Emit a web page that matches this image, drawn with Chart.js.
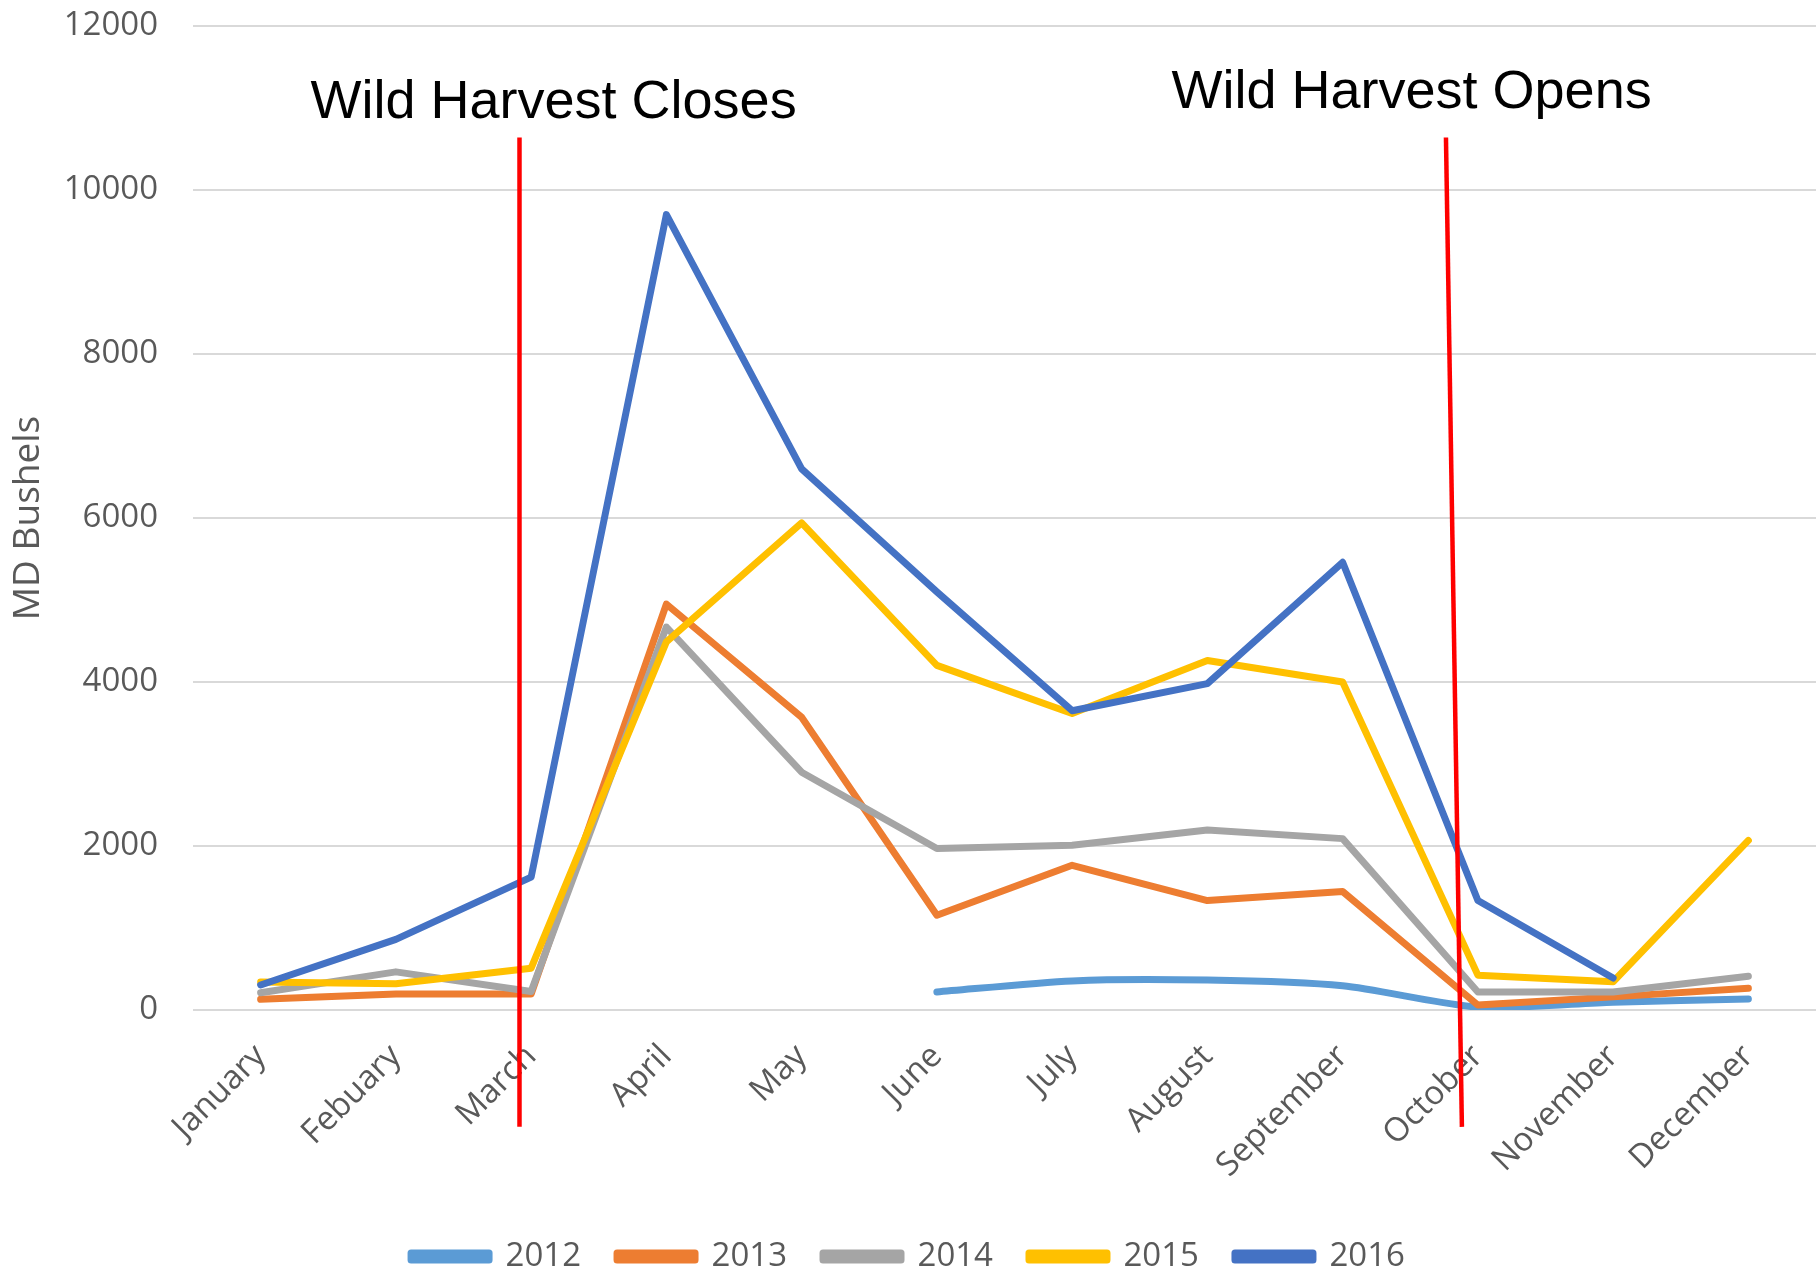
<!DOCTYPE html>
<html>
<head>
<meta charset="utf-8">
<script src="https://cdn.jsdelivr.net/npm/chart.js@4.4.1/dist/chart.umd.min.js"></script>
<style>
  html, body { margin: 0; padding: 0; background: #fff; }
  #wrap { width: 1816px; height: 1275px; position: relative; }
</style>
</head>
<body>
<div id="wrap"><canvas id="chart"></canvas></div>
<script>
// Categories (spelling kept as in the original)
const months = ['January', 'Febuary', 'March', 'April', 'May', 'June', 'July',
  'August', 'September', 'October', 'November', 'December'];

// MD bushels per month
const bushels2012 = [null, null, null, null, null, 220, 355, 365, 295, 35, 95, 135];
const bushels2013 = [130, 195, 195, 4950, 3570, 1155, 1765, 1335, 1445, 60, 160, 265];
const bushels2014 = [210, 465, 225, 4670, 2900, 1970, 2010, 2195, 2090, 220, 220, 412];
const bushels2015 = [340, 320, 510, 4490, 5940, 4203, 3615, 4262, 4000, 425, 345, 2068];
const bushels2016 = [305, 862, 1620, 9700, 6600, 5100, 3650, 3980, 5460, 1335, 390, null];

const yTicks = [0, 2000, 4000, 6000, 8000, 10000, 12000];

// Season markers (category index / bushel units)
const closesMarker = { xTop: 1.914, xBottom: 1.914, yTop: 10640, yBottom: -1425 };
const opensMarker = { xTop: 8.764, xBottom: 8.882, yTop: 10640, yBottom: -1425 };
const closesLabel = { text: 'Wild Harvest Closes', x: 2.166, y: 10880 };
const opensLabel = { text: 'Wild Harvest Opens', x: 8.51, y: 11000 };

const GREY_TEXT = '#595959';

function series(label, data, color, order, tension) {
  return {
    label: label,
    data: data,
    borderColor: color,
    backgroundColor: color,
    borderWidth: 7,
    borderCapStyle: 'round',
    borderJoinStyle: 'round',
    pointRadius: 0,
    pointHoverRadius: 0,
    tension: tension || 0,
    spanGaps: false,
    fill: false,
    order: order
  };
}

// Red marker lines + labels drawn over the series
const harvestMarkers = {
  id: 'harvestMarkers',
  afterDatasetsDraw(chart) {
    const ctx = chart.ctx;
    const x = chart.scales.x;
    const y = chart.scales.y;
    ctx.save();
    ctx.strokeStyle = '#FF0000';
    ctx.lineWidth = 4.5;
    [closesMarker, opensMarker].forEach(m => {
      ctx.beginPath();
      ctx.moveTo(x.getPixelForValue(m.xTop), y.getPixelForValue(m.yTop));
      ctx.lineTo(x.getPixelForValue(m.xBottom), y.getPixelForValue(m.yBottom));
      ctx.stroke();
    });
    ctx.fillStyle = '#000000';
    ctx.font = '54px "Liberation Sans", Arial, sans-serif';
    ctx.textAlign = 'center';
    ctx.textBaseline = 'alphabetic';
    [closesLabel, opensLabel].forEach(l => {
      ctx.fillText(l.text, x.getPixelForValue(l.x), y.getPixelForValue(l.y));
    });
    ctx.restore();
  }
};

const ctx = document.getElementById('chart').getContext('2d');
const chart = new Chart(ctx, {
  type: 'line',
  data: {
    labels: months,
    datasets: [
      series('2012', bushels2012, '#5B9BD5', 4, 0.25),
      series('2013', bushels2013, '#ED7D31', 3),
      series('2014', bushels2014, '#A5A5A5', 2),
      series('2015', bushels2015, '#FFC000', 1),
      series('2016', bushels2016, '#4472C4', 0)
    ]
  },
  options: {
    responsive: true,
    maintainAspectRatio: false,
    animation: false,
    layout: { padding: { top: 26, left: 0, right: 0, bottom: -8 } },
    scales: {
      x: {
        type: 'category',
        offset: true,
        afterFit: axis => { axis.height = 194; },
        grid: { display: false, drawTicks: false },
        border: { display: false },
        ticks: {
          color: GREY_TEXT,
          font: { family: '"Open Sans", sans-serif', size: 33 },
          minRotation: 45,
          maxRotation: 45,
          autoSkip: false,
          padding: 27
        }
      },
      y: {
        min: 0,
        max: 12000,
        afterFit: axis => { axis.width = 193; },
        afterBuildTicks: axis => { axis.ticks = yTicks.map(v => ({ value: v })); },
        grid: {
          color: '#D9D9D9',
          lineWidth: 2,
          drawTicks: true,
          tickLength: 35,
          tickColor: 'rgba(0,0,0,0)'
        },
        border: { display: false },
        ticks: {
          color: GREY_TEXT,
          font: { family: '"Open Sans", sans-serif', size: 33 },
          padding: 0,
          callback: v => String(v)
        },
        title: {
          display: true,
          text: 'MD Bushels',
          color: GREY_TEXT,
          font: { family: '"Open Sans", sans-serif', size: 37 },
          padding: { top: 6, bottom: 14 }
        }
      }
    },
    plugins: {
      legend: {
        position: 'bottom',
        labels: {
          color: GREY_TEXT,
          font: { family: '"Open Sans", sans-serif', size: 33 },
          boxWidth: 78,
          boxHeight: 7,
          padding: 36,
          sort: (a, b) => a.datasetIndex - b.datasetIndex
        }
      },
      tooltip: { enabled: false }
    }
  },
  plugins: [harvestMarkers]
});
</script>
</body>
</html>
